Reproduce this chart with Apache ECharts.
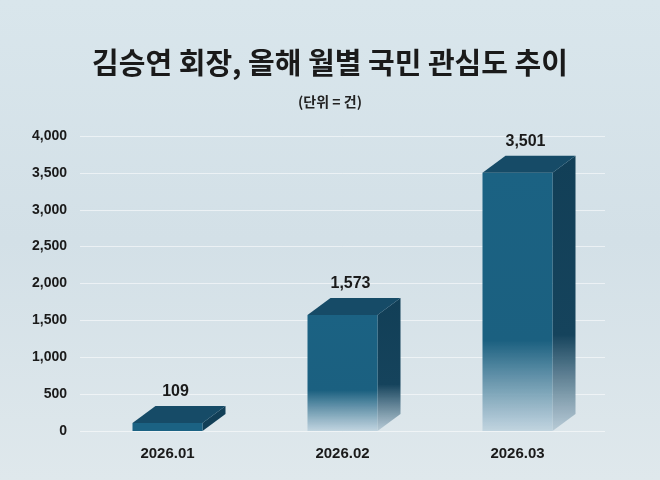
<!DOCTYPE html><html><head><meta charset="utf-8"><script src="https://cdn.jsdelivr.net/npm/echarts@6/dist/echarts.min.js"></script>
<style>html,body{margin:0;padding:0}#c{width:660px;height:480px;background:linear-gradient(180deg,#d9e6ec 0%,#d3e0e7 50%,#dfe8ec 100%)}</style></head><body><div id="c"></div><script>
const categories=['2026.01','2026.02','2026.03'];
const values=[109,1573,3501];
const yTicks=[0,500,1000,1500,2000,2500,3000,3500,4000];
const ch=echarts.init(document.getElementById('c'));
const DX=23,DY=17;
ch.setOption({
title:[{text:'김승연 회장, 올해 월별 국민 관심도 추이',left:'center',top:43,textStyle:{fontFamily:'Noto Sans CJK KR',fontSize:29,fontWeight:'bold',color:'#1a1a1a'}},
{text:'(단위 = 건)',left:'center',top:90,textStyle:{fontFamily:'Noto Sans CJK KR',fontSize:14,fontWeight:'bold',color:'#222'}}],
grid:{left:80,right:55,top:136,bottom:49},
xAxis:{type:'category',data:categories,axisLine:{show:false},axisTick:{show:false},axisLabel:{margin:15,fontSize:15,fontWeight:'bold',color:'#1a1a1a',fontFamily:'Liberation Sans'}},
yAxis:{type:'value',min:0,max:4000,interval:500,axisLine:{show:false},axisTick:{show:false},
splitLine:{lineStyle:{color:'rgba(255,255,255,0.55)'}},
axisLabel:{margin:13,fontSize:14,fontWeight:'bold',color:'#1a1a1a',fontFamily:'Liberation Sans',formatter:v=>yTicks.includes(v)?v.toLocaleString('en-US'):''}},
series:[{type:'custom',data:values.map((v,i)=>[i,v]),
renderItem:(p,api)=>{const t=api.coord([api.value(0),api.value(1)]),b=api.coord([api.value(0),0]);
const w=api.size([1,0])[0]*0.4,x0=t[0]-w/2,x1=t[0]+w/2,yt=t[1],yb=b[1];
const front=new echarts.graphic.LinearGradient(0,0,0,1,[{offset:0,color:'#1b6283'},{offset:0.65,color:'#1b6080'},{offset:1,color:'rgba(190,210,222,0.9)'}]);
const side=new echarts.graphic.LinearGradient(0,0,0,1,[{offset:0,color:'#123f57'},{offset:0.65,color:'#15435c'},{offset:1,color:'rgba(180,200,212,0.9)'}]);
return {type:'group',children:[
{type:'polygon',shape:{points:[[x1,yt],[x1+DX,yt-DY],[x1+DX,yb-DY],[x1,yb]]},style:{fill:api.value(1)<300?'#123f57':side}},
{type:'rect',shape:{x:x0,y:yt,width:w,height:yb-yt},style:{fill:api.value(1)<300?'#1b6283':front}},
{type:'polygon',shape:{points:[[x0,yt],[x0+DX,yt-DY],[x1+DX,yt-DY],[x1,yt]]},style:{fill:'#164b67'}},
{type:'text',style:{text:api.value(1).toLocaleString('en-US'),x:t[0]+8,y:yt-DY-6,align:'center',verticalAlign:'bottom',font:'bold 16px Liberation Sans',fill:'#1a1a1a'}}
]};}}]
});
</script></body></html>
